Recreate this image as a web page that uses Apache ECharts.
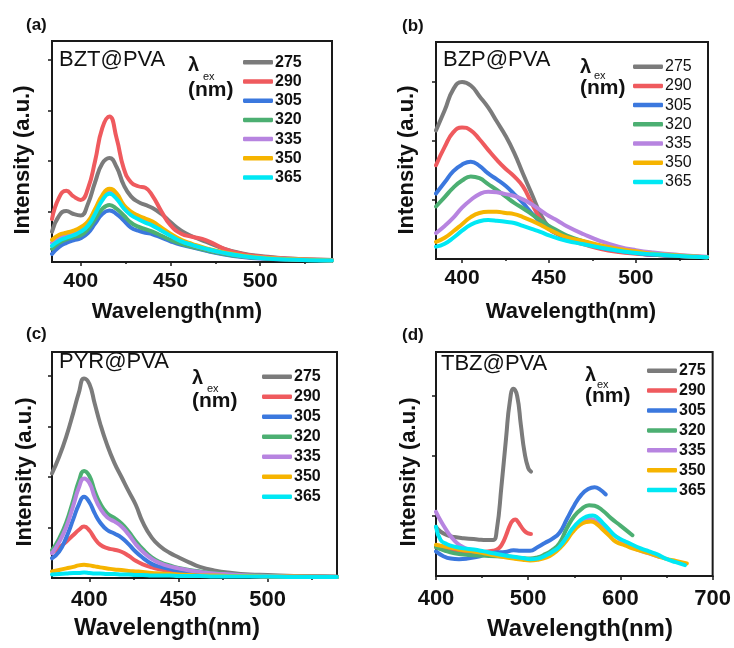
<!DOCTYPE html>
<html>
<head>
<meta charset="utf-8">
<script src="https://cdn.jsdelivr.net/npm/echarts@6/dist/echarts.min.js"></script>
<style>
html,body{margin:0;padding:0;background:#fff;}
#main{width:734px;height:648px;}
</style>
</head>
<body>
<div id="main"></div>
<script>
// ---------- DATA ----------
const excitation = ['275','290','305','320','335','350','365'];
const lineColors = ['#7b7b7b','#ef5a5e','#3b78de','#4caf72','#b784e0','#f6b400','#00e8f4'];

// (a) BZT@PVA
const wlA = [384,388,392,396,400,404,408,412,416,420,424,428,432,436,440,445,450,456,462,470,480,490,500,515,540];
const a275 = [0.60,0.92,1.01,0.95,0.92,1.15,1.58,1.95,2.06,1.88,1.52,1.30,1.19,1.13,1.07,0.95,0.79,0.62,0.51,0.40,0.26,0.17,0.12,0.07,0.04];
const a290 = [0.85,1.28,1.41,1.30,1.23,1.45,2.00,2.65,2.88,2.45,1.85,1.58,1.50,1.47,1.31,1.00,0.73,0.56,0.50,0.43,0.26,0.16,0.11,0.07,0.04];
const a305 = [0.16,0.30,0.38,0.43,0.47,0.57,0.76,0.95,1.02,0.95,0.82,0.68,0.62,0.58,0.55,0.48,0.41,0.34,0.29,0.22,0.15,0.10,0.07,0.05,0.03];
const a320 = [0.26,0.38,0.45,0.49,0.53,0.65,0.85,1.05,1.13,1.05,0.92,0.78,0.70,0.65,0.60,0.52,0.44,0.36,0.30,0.23,0.16,0.11,0.08,0.05,0.03];
const a335 = [0.38,0.48,0.53,0.57,0.63,0.74,0.98,1.25,1.39,1.30,1.08,0.95,0.87,0.81,0.75,0.64,0.53,0.42,0.34,0.26,0.18,0.12,0.09,0.06,0.03];
const a350 = [0.44,0.54,0.58,0.62,0.69,0.80,1.05,1.32,1.45,1.36,1.13,1.00,0.92,0.86,0.80,0.68,0.56,0.44,0.36,0.27,0.19,0.13,0.09,0.06,0.03];
const a365 = [0.32,0.42,0.48,0.53,0.60,0.72,0.95,1.22,1.35,1.25,1.06,0.93,0.85,0.78,0.72,0.62,0.52,0.41,0.34,0.26,0.18,0.12,0.08,0.05,0.03];

// (b) BZP@PVA
const wlB = [385,390,395,400,405,410,415,420,425,430,435,440,445,450,455,460,470,480,490,500,510,525,541];
const b275 = [2.18,2.52,2.88,3.00,2.94,2.76,2.57,2.33,2.09,1.80,1.45,1.11,0.77,0.54,0.43,0.35,0.26,0.18,0.13,0.10,0.07,0.05,0.03];
const b290 = [1.59,1.90,2.15,2.23,2.18,2.03,1.85,1.68,1.53,1.40,1.23,0.95,0.68,0.51,0.42,0.34,0.25,0.17,0.12,0.09,0.07,0.05,0.03];
const b305 = [1.11,1.30,1.49,1.60,1.65,1.58,1.45,1.35,1.24,1.10,0.95,0.78,0.63,0.51,0.43,0.36,0.27,0.19,0.14,0.10,0.07,0.05,0.03];
const b320 = [0.89,1.05,1.21,1.33,1.40,1.37,1.27,1.17,1.06,0.95,0.86,0.76,0.66,0.56,0.48,0.40,0.30,0.21,0.15,0.11,0.08,0.05,0.03];
const b335 = [0.44,0.56,0.70,0.87,1.00,1.10,1.14,1.13,1.10,1.07,1.01,0.93,0.83,0.73,0.65,0.56,0.42,0.30,0.21,0.15,0.11,0.07,0.04];
const b350 = [0.29,0.36,0.47,0.59,0.71,0.78,0.80,0.80,0.78,0.76,0.71,0.65,0.58,0.50,0.43,0.37,0.30,0.23,0.17,0.13,0.09,0.06,0.03];
const b365 = [0.21,0.26,0.36,0.48,0.58,0.64,0.66,0.65,0.63,0.61,0.56,0.51,0.46,0.40,0.35,0.31,0.25,0.19,0.14,0.10,0.08,0.05,0.03];

// (c) PYR@PVA
const wlC = [379,383,387,391,394,397,400,403,406,410,414,418,422,426,430,435,440,445,450,456,462,470,480,490,500,515,539];
const c275 = [2.07,2.40,2.80,3.28,3.66,3.95,3.84,3.45,3.06,2.63,2.28,2.00,1.72,1.45,1.10,0.80,0.62,0.50,0.41,0.31,0.22,0.15,0.10,0.07,0.06,0.04,0.03];
const c290 = [0.50,0.60,0.72,0.85,0.95,1.02,0.94,0.78,0.66,0.59,0.56,0.52,0.44,0.34,0.27,0.21,0.17,0.14,0.12,0.10,0.08,0.06,0.05,0.04,0.03,0.03,0.02];
const c305 = [0.39,0.52,0.80,1.17,1.45,1.61,1.50,1.28,1.10,0.95,0.88,0.80,0.67,0.52,0.40,0.28,0.22,0.18,0.14,0.11,0.09,0.07,0.05,0.04,0.03,0.03,0.02];
const c320 = [0.55,0.78,1.10,1.55,1.91,2.12,2.02,1.72,1.48,1.28,1.19,1.08,0.92,0.73,0.57,0.41,0.31,0.25,0.20,0.16,0.13,0.10,0.07,0.05,0.04,0.03,0.02];
const c335 = [0.49,0.71,1.01,1.44,1.78,1.97,1.88,1.60,1.38,1.20,1.12,1.02,0.86,0.67,0.52,0.38,0.29,0.23,0.19,0.15,0.12,0.09,0.07,0.05,0.04,0.03,0.02];
const c350 = [0.13,0.16,0.19,0.22,0.25,0.26,0.25,0.23,0.21,0.19,0.17,0.16,0.14,0.13,0.12,0.10,0.09,0.08,0.07,0.06,0.05,0.05,0.04,0.04,0.03,0.03,0.02];
const c365 = [0.07,0.08,0.09,0.10,0.10,0.11,0.10,0.09,0.09,0.08,0.08,0.07,0.07,0.06,0.06,0.05,0.05,0.05,0.04,0.04,0.04,0.03,0.03,0.03,0.03,0.02,0.02];

// (d) TBZ@PVA  (each excitation has its own wavelength range)
const d275wl = [400,405,412,420,430,445,455,462,466,471,476,480,484,488,492,496,500,503];
const d275   = [0.82,0.74,0.68,0.65,0.63,0.61,0.60,0.60,0.78,1.50,2.30,2.90,3.12,3.00,2.52,2.06,1.80,1.74];
const d290wl = [400,410,420,435,450,462,468,472,476,480,483,486,489,492,496,500,503];
const d290   = [0.48,0.44,0.41,0.40,0.40,0.42,0.46,0.54,0.68,0.84,0.92,0.94,0.90,0.83,0.75,0.71,0.70];
const d305wl = [400,408,416,425,434,445,455,465,475,484,492,502,510,518,526,534,542,550,558,565,572,578,584];
const d305   = [0.41,0.33,0.29,0.28,0.29,0.32,0.36,0.39,0.40,0.43,0.42,0.42,0.48,0.55,0.62,0.72,0.95,1.18,1.36,1.45,1.48,1.44,1.36];
const d320wl = [400,410,420,435,450,465,480,492,502,510,518,526,534,542,550,558,566,572,580,590,600,613];
const d320   = [0.48,0.42,0.38,0.35,0.34,0.33,0.32,0.30,0.29,0.31,0.36,0.43,0.55,0.80,1.00,1.12,1.18,1.17,1.10,0.96,0.84,0.68];
const d335wl = [400,404,409,414,420,426,432,440,450,460,470,480,490,502,512,520,530,540,550,560,568,575,582,590,600,610,620,630,642];
const d335   = [1.07,0.95,0.82,0.70,0.59,0.51,0.46,0.43,0.40,0.37,0.34,0.31,0.29,0.27,0.29,0.33,0.42,0.60,0.80,0.92,0.95,0.90,0.82,0.72,0.60,0.50,0.43,0.38,0.32];
const d350wl = [400,410,420,430,441,452,462,472,484,494,502,510,520,528,534,541,548,556,563,568,574,581,588,595,605,613,622,631,640,649,660,672];
const d350   = [0.52,0.49,0.46,0.43,0.41,0.38,0.35,0.32,0.29,0.27,0.26,0.27,0.31,0.38,0.46,0.58,0.73,0.85,0.90,0.91,0.87,0.77,0.67,0.57,0.51,0.46,0.42,0.38,0.33,0.29,0.25,0.21];
const d365wl = [400,405,412,420,430,441,452,462,472,484,494,502,510,520,528,534,541,548,556,563,570,576,581,588,595,605,613,622,631,640,649,660,670];
const d365   = [0.82,0.60,0.53,0.49,0.46,0.44,0.41,0.38,0.35,0.32,0.30,0.28,0.29,0.35,0.42,0.49,0.63,0.79,0.92,0.99,1.01,0.96,0.88,0.77,0.66,0.58,0.52,0.46,0.41,0.36,0.29,0.23,0.18];

// tick labels
const xLabelsABC = [400,450,500];
const xMinorABC = [425,475,525];
const panelLetters = ['(a)','(b)','(c)','(d)'];
const panelTitles = ['BZT@PVA','BZP@PVA','PYR@PVA','TBZ@PVA'];

// ---------- CHART ----------
const FONT = '"Liberation Sans", Arial, Helvetica, sans-serif';
const INK = '#111';
const pair = (wl, v) => wl.map((w, i) => [w, v[i]]);

const panels = [
  {grid:{left:52, top:41, width:280, height:221}, xmin:384, xmax:540, ymax:4.376, yticks:[1,2,3,4],
   series:[pair(wlA,a275),pair(wlA,a290),pair(wlA,a305),pair(wlA,a320),pair(wlA,a335),pair(wlA,a350),pair(wlA,a365)],
   labelSize:21, labelMargin:9},
  {grid:{left:436, top:42, width:272, height:217}, xmin:385, xmax:541.5, ymax:3.678, yticks:[1,2,3],
   series:[pair(wlB,b275),pair(wlB,b290),pair(wlB,b305),pair(wlB,b320),pair(wlB,b335),pair(wlB,b350),pair(wlB,b365)],
   labelSize:21, labelMargin:9},
  {grid:{left:52, top:352, width:285, height:226}, xmin:379, xmax:539, ymax:4.475, yticks:[1,2,3,4],
   series:[pair(wlC,c275),pair(wlC,c290),pair(wlC,c305),pair(wlC,c320),pair(wlC,c335),pair(wlC,c350),pair(wlC,c365)],
   labelSize:22, labelMargin:11},
  {grid:{left:436, top:352, width:279, height:224}, xmin:400, xmax:700, ymax:3.733, yticks:[1,2,3],
   series:[pair(d275wl,d275),pair(d290wl,d290),pair(d305wl,d305),pair(d320wl,d320),pair(d335wl,d335),pair(d350wl,d350),pair(d365wl,d365)],
   labelSize:22, labelMargin:12}
];

const grids = [], xAxes = [], yAxes = [], series = [];
panels.forEach((p, i) => {
  grids.push(Object.assign({show:true, borderColor:'#1a1a1a', borderWidth:2, backgroundColor:'transparent'}, p.grid));
  const xa = {
    gridIndex:i, type:'value', min:p.xmin, max:p.xmax,
    axisLine:{show:true, onZero:false, lineStyle:{color:'#1a1a1a', width:2}},
    axisTick:{show:true, inside:false, length:4, lineStyle:{color:'#1a1a1a', width:1.5}},
    axisLabel:{show:true, fontFamily:FONT, fontSize:p.labelSize, fontWeight:'bold', color:INK, margin:p.labelMargin},
    splitLine:{show:false}
  };
  if (i < 3) {
    xa.axisLabel.customValues = xLabelsABC;
    xa.axisTick.customValues = xLabelsABC;
  } else {
    xa.interval = 100;
    xa.minorTick = {show:true, splitNumber:2, length:2, lineStyle:{color:'#1a1a1a', width:1.5}};
  }
  xAxes.push(xa);
  yAxes.push({
    gridIndex:i, type:'value', min:0, max:p.ymax,
    axisLine:{show:true, onZero:false, lineStyle:{color:'#1a1a1a', width:2}},
    axisTick:{show:true, inside:false, length:4, customValues:p.yticks, lineStyle:{color:'#1a1a1a', width:1.5}},
    axisLabel:{show:false},
    splitLine:{show:false}
  });
  p.series.forEach((d, k) => {
    series.push({
      type:'line', name:excitation[k], xAxisIndex:i, yAxisIndex:i,
      data:d, showSymbol:false, symbol:'none', smooth:0.5,
      lineStyle:{width:4, color:lineColors[k], cap:'round', join:'round'},
      itemStyle:{color:lineColors[k]}, emphasis:{disabled:true}, silent:true, animation:false
    });
  });
});
// minor ticks for panels a-c
for (let i = 0; i < 3; i++) {
  xAxes.push({
    gridIndex:i, type:'value', min:panels[i].xmin, max:panels[i].xmax, position:'bottom',
    axisLine:{show:false}, axisLabel:{show:false}, splitLine:{show:false},
    axisTick:{show:true, length:2, customValues:xMinorABC, lineStyle:{color:'#1a1a1a', width:1.5}}
  });
}

const legendPos = [
  {left:243, top:54.3, gap:3.2, size:16, weight:'bold'},
  {left:633, top:58.7, gap:3.2, size:16, weight:'normal'},
  {left:262, top:368.7, gap:4.0, size:16, weight:'bold'},
  {left:647, top:362.7, gap:3.9, size:16, weight:'bold'}
];
const legends = legendPos.map(l => ({
  data:excitation, orient:'vertical', left:l.left, top:l.top, padding:0,
  itemWidth:30, itemHeight:4.5, itemGap:l.gap, icon:'roundRect', selectedMode:false,
  textStyle:{fontFamily:FONT, fontSize:l.size, fontWeight:l.weight, color:INK, lineHeight:16, padding:[0,0,0,-3]}
}));

const graphics = [];
const txt = (x, y, text, size, weight, align, extra) => Object.assign({
  type:'text', x:x, y:y, silent:true,
  style:{text:text, fontFamily:FONT, fontSize:size, fontWeight:weight, fill:INK, align:align||'left', verticalAlign:'middle'}
}, extra||{});
// panel letters
[[26,25],[402,26],[26,334],[402,335]].forEach((p, i) => graphics.push(txt(p[0], p[1], panelLetters[i], 17, 'bold')));
// inner titles
[[59,60],[443,60],[59,362],[441,364]].forEach((p, i) => graphics.push(txt(p[0], p[1], panelTitles[i], 22, 'normal')));
// lambda_ex (nm)
[[188,65,203,77,188,90],[580,67,594,76,580,88],[192,378,207,389,192,401],[585,375,597,385,585,396]].forEach(p => {
  graphics.push(txt(p[0], p[1], 'λ', 20, 'bold'));
  graphics.push(txt(p[2], p[3], 'ex', 11, 'normal'));
  graphics.push(txt(p[4], p[5], '(nm)', 21, 'bold'));
});
// axis titles
[[177,312,22],[571,312,22],[167,628,24],[580,629,24]].forEach(p => graphics.push(txt(p[0], p[1], 'Wavelength(nm)', p[2], 'bold', 'center')));
[[23,160],[407,160],[25,472],[409,472]].forEach(p => graphics.push(txt(p[0], p[1], 'Intensity (a.u.)', 22, 'bold', 'center', {rotation:Math.PI/2})));

const chart = echarts.init(document.getElementById('main'), null, {renderer:'canvas'});
chart.setOption({
  animation:false,
  backgroundColor:'#fff',
  grid:grids, xAxis:xAxes, yAxis:yAxes, series:series,
  legend:legends, graphic:graphics
});
</script>
</body>
</html>
